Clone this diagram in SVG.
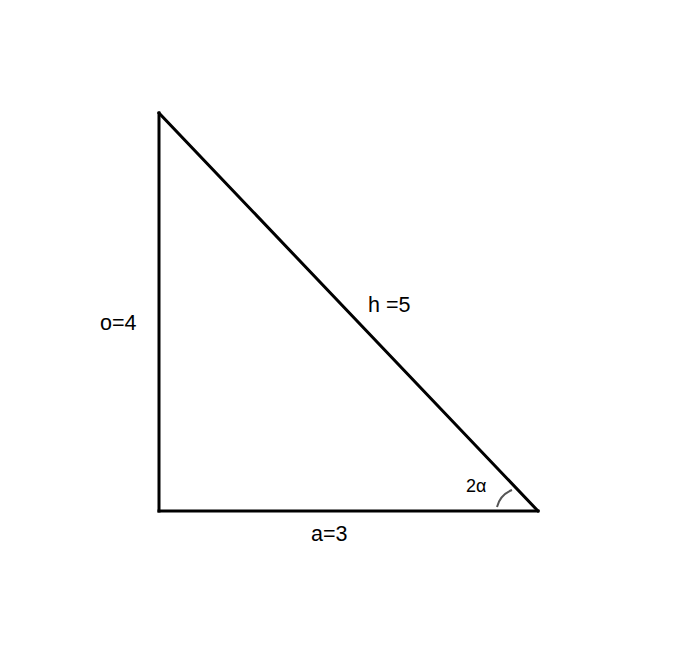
<svg xmlns="http://www.w3.org/2000/svg" width="691" height="651" viewBox="0 0 691 651">
<style>
.edge{stroke:#000;stroke-width:3;fill:none;stroke-linecap:square}
.lbl{font-family:"Liberation Sans",Arial,sans-serif;fill:#000}
</style>
<rect width="691" height="651" fill="#fff"/>
<g id="connectors">
<line class="edge" x1="159" y1="113" x2="159" y2="511"/>
<line class="edge" x1="159" y1="511" x2="538" y2="511"/>
<line class="edge" x1="159" y1="113" x2="538" y2="511"/>
<path d="M497 507 Q500 495 512 490" stroke="#555" stroke-width="2" fill="none"/>
</g>
<g id="labels">
<text class="lbl" x="100" y="330" font-size="21.5">o=4</text>
<text class="lbl" x="368" y="312" font-size="21.5">h =5</text>
<text class="lbl" x="311" y="541" font-size="21.5">a=3</text>
<text class="lbl" x="466" y="492" font-size="18">2α</text>
</g>
</svg>
